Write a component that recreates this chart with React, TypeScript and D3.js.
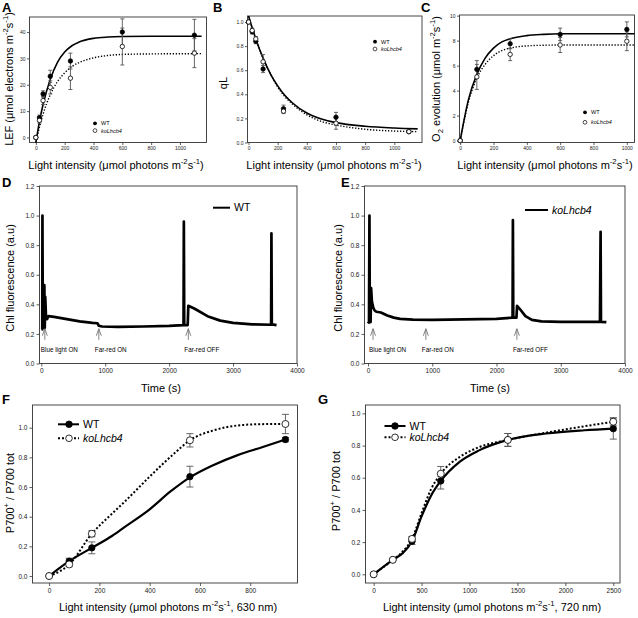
import React, { useEffect, useRef } from 'react';
import * as d3 from 'd3';

const FONT = '"Liberation Sans", Arial, Helvetica, sans-serif';

// ---- A: LEF ----
const aX = [0, 25, 50, 100, 240, 600, 1100];
const aWT = [0, 7.5, 16.5, 23.2, 29, 40, 38.8];
const aWTErr = [0.5, 1, 1.2, 2.3, 3, 5, 6];
const aKO = [0, 6.5, 14, 19, 22.5, 34.5, 32];
const aKOErr = [0.5, 1, 1.5, 2.5, 4.3, 7, 5.5];
const aFitX = [0, 25, 50, 100, 150, 200, 250, 300, 400, 500, 600, 800, 1150];
const aFitWT = [-2, 6, 12.5, 22, 28.5, 32.4, 34.8, 36.2, 37.6, 38.1, 38.3, 38.4, 38.4];
const aFitKO = [-2, 3.9, 8.8, 16.2, 21.2, 24.5, 26.9, 28.4, 30.2, 31.1, 31.5, 31.7, 31.8];

// ---- B: qL ----
const bX = [0, 25, 50, 100, 240, 600, 1100];
const bWT = [1.0, 0.92, 0.84, 0.61, 0.28, 0.21, 0.09];
const bWTErr = [0.01, 0.02, 0.02, 0.03, 0.03, 0.04, 0.01];
const bKO = [1.0, 0.93, 0.86, 0.67, 0.26, 0.16, 0.09];
const bKOErr = [0.01, 0.02, 0.02, 0.06, 0.02, 0.05, 0.01];
const bFitX = [0, 50, 100, 150, 200, 250, 300, 400, 500, 600, 800, 1000, 1160];
const bFitWT = [1.05, 0.86, 0.7, 0.57, 0.47, 0.39, 0.33, 0.245, 0.195, 0.165, 0.135, 0.12, 0.113];
const bFitKO = [1.05, 0.86, 0.7, 0.57, 0.46, 0.38, 0.32, 0.23, 0.175, 0.145, 0.11, 0.095, 0.09];

// ---- C: O2 evolution ----
const cX = [0, 100, 300, 600, 1000];
const cWT = [0, 5.7, 7.75, 8.5, 8.9];
const cWTErr = [0.1, 0.7, 0.4, 0.5, 0.6];
const cKO = [0, 5.1, 6.9, 7.65, 7.95];
const cKOErr = [0.1, 1.0, 0.5, 0.6, 0.75];
const cFitX = [0, 50, 100, 150, 200, 250, 300, 400, 500, 600, 1050];
const cFitWT = [0, 3.3, 5.3, 6.6, 7.4, 7.9, 8.15, 8.4, 8.5, 8.55, 8.55];
const cFitKO = [0, 3.1, 5.0, 6.1, 6.8, 7.2, 7.4, 7.58, 7.63, 7.65, 7.65];

// ---- D / E: Chl fluorescence traces ----
const dTime = [5, 15, 18, 24, 40, 48, 54, 62, 75, 90, 110, 200, 400, 600, 800, 880, 900, 950, 1200, 1600, 2000, 2225, 2230, 2236, 2290, 2300, 2400, 2600, 2800, 3000, 3300, 3595, 3600, 3606, 3680];
const dWT = [0.23, 0.23, 1.0, 0.24, 0.25, 0.53, 0.24, 0.45, 0.3, 0.3, 0.32, 0.315, 0.3, 0.285, 0.275, 0.272, 0.255, 0.25, 0.248, 0.25, 0.255, 0.26, 0.96, 0.26, 0.26, 0.39, 0.37, 0.32, 0.29, 0.275, 0.265, 0.262, 0.88, 0.265, 0.26];
const eTime = [0, 15, 22, 28, 40, 48, 60, 80, 100, 130, 200, 300, 400, 500, 700, 1000, 1500, 2000, 2250, 2255, 2261, 2310, 2320, 2360, 2450, 2550, 2700, 3000, 3610, 3620, 3626, 3710];
const eKO = [0.27, 0.28, 1.0, 0.28, 0.28, 0.51, 0.42, 0.38, 0.36, 0.35, 0.345, 0.325, 0.31, 0.302, 0.297, 0.295, 0.298, 0.302, 0.31, 0.97, 0.31, 0.31, 0.39, 0.37, 0.32, 0.295, 0.285, 0.282, 0.282, 0.89, 0.282, 0.28];
const arrowLabels = ['Blue light ON', 'Far-red ON', 'Far-red OFF'];
const dArrowTimes = [55, 900, 2300];
const eArrowTimes = [78, 900, 2317];

// ---- F: P700 630 nm ----
const fX = [0, 80, 170, 560, 940];
const fWT = [0, 0.1, 0.19, 0.67, 0.92];
const fWTErr = [0, 0.02, 0.04, 0.07, 0.015];
const fKO = [0, 0.078, 0.285, 0.915, 1.025];
const fKOErr = [0, 0.015, 0.02, 0.045, 0.065];
const fCurveX = [0, 80, 170, 250, 300, 400, 483, 560, 650, 750, 850, 940];
const fCurveWT = [0, 0.1, 0.19, 0.27, 0.33, 0.45, 0.57, 0.665, 0.745, 0.815, 0.87, 0.92];
const fCurveKOX = [0, 80, 170, 250, 300, 400, 500, 560, 650, 750, 850, 940];
const fCurveKO = [0, 0.078, 0.285, 0.42, 0.5, 0.67, 0.83, 0.915, 0.98, 1.015, 1.024, 1.025];

// ---- G: P700 720 nm ----
const gX = [0, 200, 400, 700, 1400, 2500];
const gWT = [0, 0.09, 0.205, 0.58, 0.835, 0.905];
const gWTErr = [0, 0, 0.02, 0.05, 0.04, 0.065];
const gKO = [0, 0.09, 0.22, 0.625, 0.835, 0.948];
const gKOErr = [0, 0, 0.015, 0.045, 0.04, 0.025];
const gCurveX = [0, 200, 300, 400, 500, 600, 700, 900, 1100, 1400, 1800, 2200, 2500];
const gCurveWT = [0, 0.09, 0.13, 0.205, 0.36, 0.49, 0.58, 0.7, 0.77, 0.835, 0.875, 0.895, 0.905];
const gCurveKO = [0, 0.09, 0.14, 0.22, 0.38, 0.53, 0.625, 0.73, 0.79, 0.835, 0.88, 0.92, 0.948];

type Part = [string, string?];
const lightLabel: Part[] = [['Light intensity (μmol photons m'], ['-2', 'sup'], ['s'], ['-1', 'sup'], [')']];
const light630: Part[] = [['Light intensity (μmol photons m'], ['-2', 'sup'], ['s'], ['-1', 'sup'], [', 630 nm)']];
const light720: Part[] = [['Light intensity (μmol photons m'], ['-2', 'sup'], ['s'], ['-1', 'sup'], [', 720 nm)']];
const lefLabel: Part[] = [['LEF (μmol electrons m'], ['-2', 'sup'], ['s'], ['-1', 'sup'], [')']];
const o2Label: Part[] = [['O'], ['2', 'sub'], [' evolution (μmol m'], ['-2', 'sup'], ['s'], ['-1', 'sup'], [')']];
const p700Label: Part[] = [['P700'], ['+', 'sup'], [' / P700 tot']];

function rich(sel: any, parts: Part[], fs: number) {
  let cur = 0;
  parts.forEach(([s, k]) => {
    const target = k === 'sup' ? -0.42 * fs : k === 'sub' ? 0.3 * fs : 0;
    const ts = sel.append('tspan').text(s).attr('dy', target - cur);
    cur = target;
    if (k === 'sup' || k === 'sub') ts.attr('font-size', fs * 0.7);
    if (k === 'i') ts.attr('font-style', 'italic');
  });
}

function makePanel(svg: any, p: any) {
  const g = svg.append('g');
  const [x0, x1, y0, y1] = p.box;
  const x = d3.scaleLinear().domain(p.xDomain).range([x0, x1]);
  const y = d3.scaleLinear().domain(p.yDomain).range([y1, y0]);

  const xa = g.append('g').attr('transform', `translate(0,${y1})`)
    .call(d3.axisBottom(x).tickValues(p.xTicks).tickSize(p.tick).tickPadding(p.pad).tickFormat(d3.format(p.xFmt)));
  const ya = g.append('g').attr('transform', `translate(${x0},0)`)
    .call(d3.axisLeft(y).tickValues(p.yTicks).tickSize(p.tick).tickPadding(p.pad).tickFormat(d3.format(p.yFmt)));
  [xa, ya].forEach((a) => {
    a.select('.domain').remove();
    a.attr('font-size', p.tickFs).attr('font-family', FONT);
    a.selectAll('line').attr('stroke', '#333').attr('stroke-width', 0.8);
    a.selectAll('text').attr('fill', '#222');
  });

  g.append('rect')
    .attr('x', x0).attr('y', y0).attr('width', x1 - x0).attr('height', y1 - y0)
    .attr('fill', 'none').attr('stroke', '#333').attr('stroke-width', 0.9);

  g.append('text').attr('x', p.letterAt[0]).attr('y', p.letterAt[1])
    .attr('font-family', FONT).attr('font-weight', 'bold').attr('font-size', 13).text(p.letter);

  const xl = g.append('text').attr('x', p.xLabelAt[0]).attr('y', p.xLabelAt[1])
    .attr('text-anchor', 'middle').attr('font-family', FONT).attr('font-size', p.labelFs);
  rich(xl, p.xLabel, p.labelFs);
  const yl = g.append('text').attr('transform', `translate(${p.yLabelAt[0]},${p.yLabelAt[1]}) rotate(-90)`)
    .attr('text-anchor', 'middle').attr('font-family', FONT).attr('font-size', p.labelFs);
  rich(yl, p.yLabel, p.labelFs);

  const clipId = 'clip-' + p.letter;
  g.append('clipPath').attr('id', clipId).append('rect')
    .attr('x', x0).attr('y', y0).attr('width', x1 - x0).attr('height', y1 - y0);
  const plot = g.append('g').attr('clip-path', `url(#${clipId})`);
  return { g, plot, x, y };
}

function curve(sel: any, x: any, y: any, xs: number[], ys: number[], width: number, dash?: string, straight?: boolean) {
  const line = d3.line<number>()
    .x((_, i) => x(xs[i]))
    .y((d) => y(d))
    .curve(straight ? d3.curveLinear : d3.curveMonotoneX);
  sel.append('path').attr('d', line(ys)).attr('fill', 'none').attr('stroke', '#000')
    .attr('stroke-width', width).attr('stroke-dasharray', dash || null)
    .attr('stroke-linejoin', 'round');
}

function errs(sel: any, x: any, y: any, xs: number[], ys: number[], es: number[], cap: number) {
  xs.forEach((xv, i) => {
    if (!es[i]) return;
    const cx = x(xv), lo = y(ys[i] - es[i]), hi = y(ys[i] + es[i]);
    sel.append('path')
      .attr('d', `M${cx},${lo}V${hi}M${cx - cap},${lo}H${cx + cap}M${cx - cap},${hi}H${cx + cap}`)
      .attr('stroke', '#555').attr('stroke-width', 0.9).attr('fill', 'none');
  });
}

function dots(sel: any, x: any, y: any, xs: number[], ys: number[], filled: boolean, r: number) {
  xs.forEach((xv, i) => {
    sel.append('circle').attr('cx', x(xv)).attr('cy', y(ys[i])).attr('r', r)
      .attr('fill', filled ? '#000' : '#fff').attr('stroke', '#000').attr('stroke-width', 0.8);
  });
}

function smallLegend(g: any, cx: number, cy: number, gap: number, r: number, fs: number) {
  g.append('circle').attr('cx', cx).attr('cy', cy).attr('r', r).attr('fill', '#000');
  g.append('circle').attr('cx', cx).attr('cy', cy + gap).attr('r', r).attr('fill', '#fff').attr('stroke', '#000').attr('stroke-width', 0.7);
  g.append('text').attr('x', cx + 6).attr('y', cy + fs * 0.35).attr('font-size', fs).attr('font-family', FONT).text('WT');
  g.append('text').attr('x', cx + 6).attr('y', cy + gap + fs * 0.35).attr('font-size', fs).attr('font-family', FONT)
    .attr('font-style', 'italic').text('koLhcb4');
}

function lineLegend(g: any, x0: number, x1: number, cy: number, dash: string | null, filled: boolean | null, label: string, italic: boolean, fs: number, dotX?: number) {
  g.append('line').attr('x1', x0).attr('x2', x1).attr('y1', cy).attr('y2', cy)
    .attr('stroke', '#000').attr('stroke-width', 2).attr('stroke-dasharray', dash);
  if (filled !== null) {
    g.append('circle').attr('cx', dotX).attr('cy', cy).attr('r', 3.3)
      .attr('fill', filled ? '#000' : '#fff').attr('stroke', '#000').attr('stroke-width', 0.8);
  }
  g.append('text').attr('x', x1 + 4).attr('y', cy + fs * 0.36).attr('font-size', fs).attr('font-family', FONT)
    .attr('font-style', italic ? 'italic' : null).text(label);
}

const row1 = { tick: 2.5, pad: 1.5, tickFs: 5, labelFs: 11 };
const row2 = { tick: 3, pad: 2, tickFs: 6.5, labelFs: 11 };

const App = () => {
  const svgRef = useRef<SVGSVGElement>(null);

  useEffect(() => {
    const svg = d3.select(svgRef.current);
    svg.selectAll('*').remove();

    // A
    {
      const { g, plot, x, y } = makePanel(svg, {
        ...row1, letter: 'A', letterAt: [2, 12], box: [29.5, 206.5, 17, 142.5],
        xDomain: [-44, 1184], yDomain: [-1.9, 45.7], xTicks: [0, 200, 400, 600, 800, 1000], yTicks: [0, 10, 20, 30, 40],
        xFmt: 'd', yFmt: 'd', xLabel: lightLabel, xLabelAt: [116, 169], yLabel: lefLabel, yLabelAt: [12.5, 79],
      });
      curve(plot, x, y, aFitX, aFitWT, 1.6);
      curve(plot, x, y, aFitX, aFitKO, 1.4, '1.3,1.7');
      errs(g, x, y, aX, aWT, aWTErr, 2);
      errs(g, x, y, aX, aKO, aKOErr, 2);
      dots(g, x, y, aX, aWT, true, 2.2);
      dots(g, x, y, aX, aKO, false, 2.2);
      smallLegend(g, 95, 123.3, 7.3, 1.9, 5.5);
    }
    // B
    {
      const { g, plot, x, y } = makePanel(svg, {
        ...row1, letter: 'B', letterAt: [213, 12], box: [247.5, 422, 16, 142.5],
        xDomain: [-7, 1190], yDomain: [0, 1.05], xTicks: [0, 200, 400, 600, 800, 1000], yTicks: [0, 0.2, 0.4, 0.6, 0.8, 1.0],
        xFmt: 'd', yFmt: '.1f', xLabel: lightLabel, xLabelAt: [334, 169], yLabel: [['qL']], yLabelAt: [227, 83],
      });
      curve(plot, x, y, bFitX, bFitWT, 1.6);
      curve(plot, x, y, bFitX, bFitKO, 1.4, '1.3,1.7');
      errs(g, x, y, bX, bWT, bWTErr, 2);
      errs(g, x, y, bX, bKO, bKOErr, 2);
      dots(g, x, y, bX, bWT, true, 2.2);
      dots(g, x, y, bX, bKO, false, 2.2);
      smallLegend(g, 375, 41.7, 7.3, 1.9, 5.5);
    }
    // C
    {
      const { g, plot, x, y } = makePanel(svg, {
        ...row1, letter: 'C', letterAt: [421, 12], box: [459.5, 634.5, 15, 142.5],
        xDomain: [-4, 1046], yDomain: [-0.15, 10.05], xTicks: [0, 200, 400, 600, 800, 1000], yTicks: [0, 2, 4, 6, 8, 10],
        xFmt: 'd', yFmt: 'd', xLabel: lightLabel, xLabelAt: [545, 169], yLabel: o2Label, yLabelAt: [440, 79],
      });
      curve(plot, x, y, cFitX, cFitWT, 1.6);
      curve(plot, x, y, cFitX, cFitKO, 1.4, '1.3,1.7');
      errs(g, x, y, cX, cWT, cWTErr, 2);
      errs(g, x, y, cX, cKO, cKOErr, 2);
      dots(g, x, y, cX, cWT, true, 2.2);
      dots(g, x, y, cX, cKO, false, 2.2);
      smallLegend(g, 585, 112.3, 10, 1.9, 5.5);
    }
    // D and E
    const traces = [
      { letter: 'D', letterAt: [2, 187], box: [39.5, 297, 186, 363.5], xDomain: [-28, 4000], t: dTime, v: dWT,
        arrows: dArrowTimes, label: 'WT', italic: false, leg: [213, 230, 207.7], yLabelAt: [14, 278], xLabelAt: [161, 392] },
      { letter: 'E', letterAt: [341, 187], box: [364.5, 625, 186, 363.5], xDomain: [-55, 4000], t: eTime, v: eKO,
        arrows: eArrowTimes, label: 'koLhcb4', italic: true, leg: [525, 548, 210], yLabelAt: [342, 278], xLabelAt: [490, 392] },
    ];
    traces.forEach((tr) => {
      const { g, x, y } = makePanel(svg, {
        ...row2, letter: tr.letter, letterAt: tr.letterAt, box: tr.box,
        xDomain: tr.xDomain, yDomain: [0, 1.2], xTicks: [0, 1000, 2000, 3000, 4000], yTicks: [0, 0.2, 0.4, 0.6, 0.8, 1.0, 1.2],
        xFmt: 'd', yFmt: '.1f', xLabel: [['Time (s)']], xLabelAt: tr.xLabelAt,
        yLabel: [['Chl fluorescence (a.u)']], yLabelAt: tr.yLabelAt,
      });
      curve(g, x, y, tr.t, tr.v, 2.7, undefined, true);
      tr.arrows.forEach((t, i) => {
        const ax = x(t), tip = y(0.235), base = y(0.16);
        g.append('path').attr('d', `M${ax},${base}V${tip}M${ax - 2.5},${tip + 7}L${ax},${tip}L${ax + 2.5},${tip + 7}`)
          .attr('stroke', '#777').attr('stroke-width', 0.9).attr('fill', 'none');
        g.append('text').attr('x', ax - 4).attr('y', y(0.075)).attr('font-size', 6.3).attr('font-family', FONT)
          .text(arrowLabels[i]);
      });
      lineLegend(g, tr.leg[0], tr.leg[1], tr.leg[2], null, null, tr.label, tr.italic, 10.5);
    });
    // F
    {
      const { g, x, y } = makePanel(svg, {
        ...row2, letter: 'F', letterAt: [2, 404], box: [32.5, 297.5, 405, 583],
        xDomain: [-66, 988], yDomain: [-0.047, 1.153], xTicks: [0, 200, 400, 600, 800], yTicks: [0, 0.2, 0.4, 0.6, 0.8, 1.0],
        xFmt: 'd', yFmt: '.1f', xLabel: light630, xLabelAt: [168, 611], yLabel: p700Label, yLabelAt: [14, 493],
      });
      curve(g, x, y, fCurveX, fCurveWT, 2.2);
      curve(g, x, y, fCurveKOX, fCurveKO, 2, '2,2');
      errs(g, x, y, fX, fWT, fWTErr, 3.5);
      errs(g, x, y, fX, fKO, fKOErr, 3.5);
      dots(g, x, y, fX, fWT, true, 3.2);
      dots(g, x, y, fX, fKO, false, 3.5);
      lineLegend(g, 58, 79, 424.3, null, true, 'WT', false, 10.5, 69);
      lineLegend(g, 58, 79, 438.3, '2,2', false, 'koLhcb4', true, 10.5, 69);
    }
    // G
    {
      const { g, x, y } = makePanel(svg, {
        ...row2, letter: 'G', letterAt: [318, 404], box: [365.5, 620, 405, 583],
        xDomain: [-85, 2570], yDomain: [-0.054, 1.052], xTicks: [0, 500, 1000, 1500, 2000, 2500], yTicks: [0, 0.2, 0.4, 0.6, 0.8, 1.0],
        xFmt: 'd', yFmt: '.1f', xLabel: light720, xLabelAt: [492, 611], yLabel: p700Label, yLabelAt: [340, 491],
      });
      curve(g, x, y, gCurveX, gCurveWT, 2.2);
      curve(g, x, y, gCurveX, gCurveKO, 2, '2,2');
      errs(g, x, y, gX, gWT, gWTErr, 3.5);
      errs(g, x, y, gX, gKO, gKOErr, 3.5);
      dots(g, x, y, gX, gWT, true, 3.2);
      dots(g, x, y, gX, gKO, false, 3.5);
      lineLegend(g, 384.5, 405.5, 426, null, true, 'WT', false, 10.5, 395);
      lineLegend(g, 384.5, 405.5, 437.3, '2,2', false, 'koLhcb4', true, 10.5, 395);
    }
  }, []);

  return (
    <div style={{ position: 'absolute', left: 0, top: 0, background: '#fff' }}>
      <svg ref={svgRef} width={638} height={618} style={{ display: 'block' }} />
    </div>
  );
};

export default App;
